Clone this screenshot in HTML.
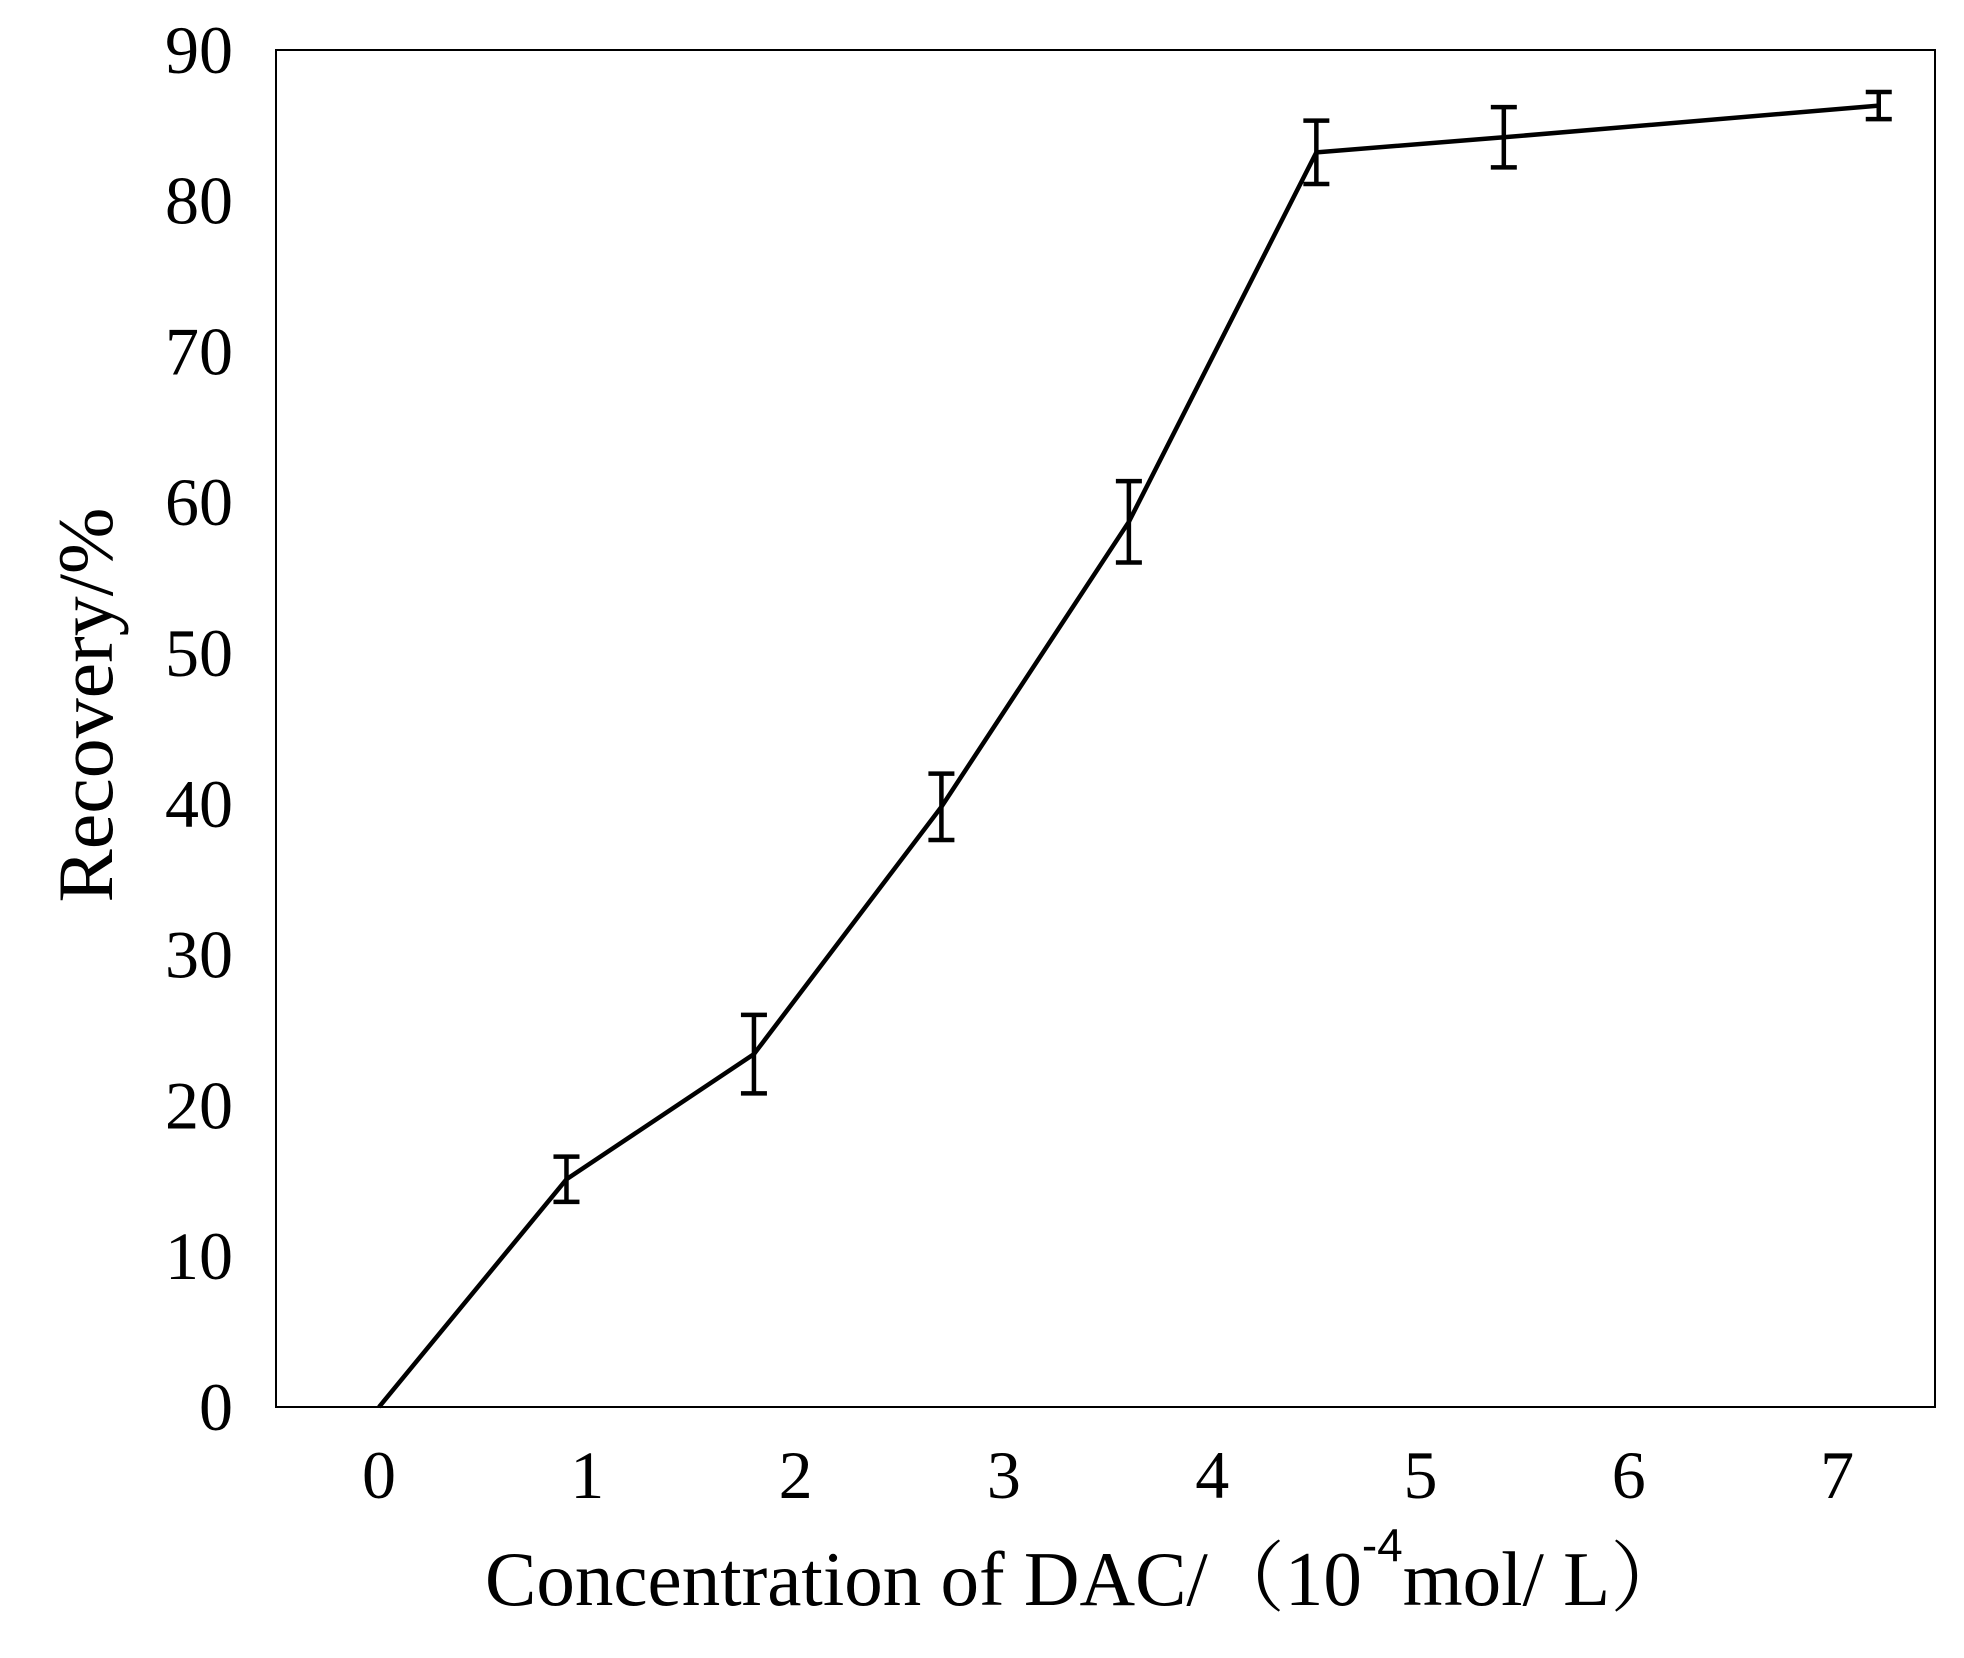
<!DOCTYPE html>
<html><head><meta charset="utf-8"><style>
html,body{margin:0;padding:0;background:#fff;}
svg text{font-family:"Liberation Serif","Noto Serif CJK SC",serif;fill:#000;}
</style></head><body>
<svg id="chart" width="1964" height="1653" viewBox="0 0 1964 1653" xmlns="http://www.w3.org/2000/svg">
<rect x="0" y="0" width="1964" height="1653" fill="#fff"/>
<rect x="276" y="50" width="1659" height="1357" fill="none" stroke="#000" stroke-width="2"/>
<g id="yticks"></g><g id="xticks"></g><g id="series"></g>
<text transform="translate(112,705) rotate(-90)" text-anchor="middle" font-size="78" textLength="395" lengthAdjust="spacingAndGlyphs">Recovery/%</text>
<text x="485" y="1605" font-size="77">Concentration of DAC/（10<tspan font-family="Liberation Sans, sans-serif" font-size="46" dy="-44">-4</tspan><tspan dy="44">mol/ L）</tspan></text>
</svg>
<script>
const xTicks=[0,1,2,3,4,5,6,7];
const yTicks=[0,10,20,30,40,50,60,70,80,90];
const xVals=[0,0.9,1.8,2.7,3.6,4.5,5.4,7.2];
const yVals=[0,15.1,23.4,39.8,58.7,83.2,84.2,86.3];
const yErr=[0,1.5,2.6,2.2,2.7,2.1,2.0,0.9];
const NS='http://www.w3.org/2000/svg';
const X=v=>379+v*208.3, Y=v=>1407-v*15.08;
function mk(t,a,p){const e=document.createElementNS(NS,t);for(const k in a)e.setAttribute(k,a[k]);p.appendChild(e);return e;}
const yt=document.getElementById('yticks'),xt=document.getElementById('xticks'),se=document.getElementById('series');
yTicks.forEach(v=>{const t=mk('text',{x:233,y:Y(v)+23,'text-anchor':'end','font-size':'68'},yt);t.textContent=v;

});
xTicks.forEach(v=>{const t=mk('text',{x:X(v),y:1498,'text-anchor':'middle','font-size':'68'},xt);t.textContent=v;

});
const pl=mk('polyline',{points:xVals.map((x,i)=>X(x)+','+Y(yVals[i])).join(' '),fill:'none',stroke:'#000','stroke-width':'4.5','stroke-linejoin':'miter'},se);


xVals.forEach((x,i)=>{if(!yErr[i])return;const g=mk('g',{stroke:'#000','stroke-width':'4.5'},se);


const cx=X(x),t=Y(yVals[i]+yErr[i]),b=Y(yVals[i]-yErr[i]);
mk('line',{x1:cx,x2:cx,y1:t,y2:b},g);mk('line',{x1:cx-13,x2:cx+13,y1:t,y2:t},g);mk('line',{x1:cx-13,x2:cx+13,y1:b,y2:b},g);});
</script>
</body></html>
